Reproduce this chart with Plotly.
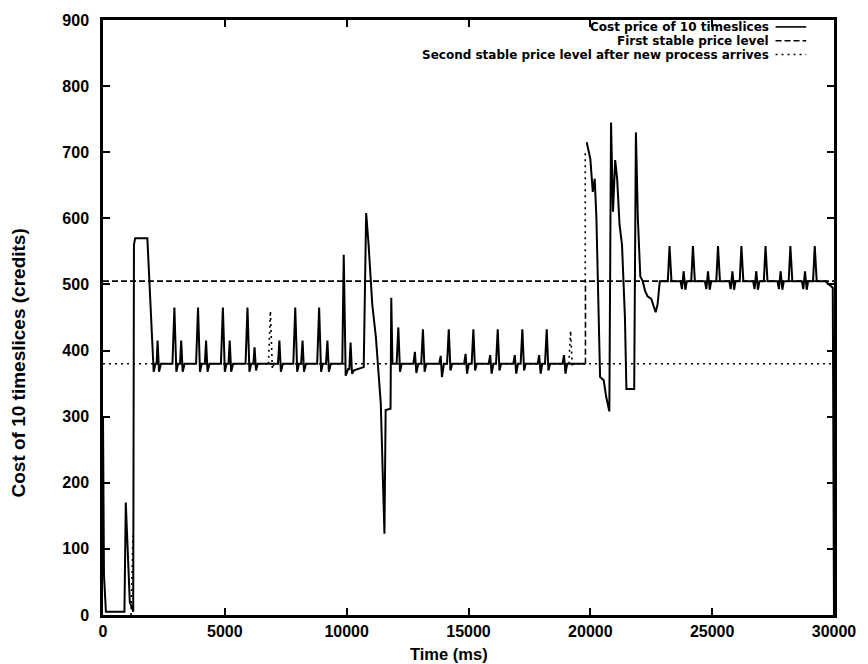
import plotly.graph_objects as go

# Cost price of 10 timeslices (credits) against time (ms), piecewise by phase
# Start-up phase
t_start = [0, 40, 120, 880, 935, 1010, 1100, 1240, 1270, 1320, 1820, 2080, 2150,
           2200, 2240, 2300, 2380]
v_start = [300, 60, 5, 5, 170, 90, 20, 5, 560, 570, 570, 368, 380,
           380, 415, 368, 380]

# First stable phase (periodic spikes)
t_first = [2850, 2930, 3010, 3080, 3160, 3210, 3270, 3350,
           3820, 3900, 3980, 4050, 4180, 4230, 4290, 4370,
           4840, 4920, 5000, 5070, 5150, 5200, 5260, 5340,
           5850, 5930, 6010, 6080, 6170, 6220, 6280, 6350,
           7180, 7240, 7300, 7380,
           7810, 7890, 7970, 8040, 8130, 8190, 8250, 8330,
           8790, 8870, 8950, 9020, 9150, 9210, 9270, 9350,
           9820, 9880, 9960, 10060, 10110, 10160, 10220, 10300, 10700]
v_first = [380, 465, 368, 380, 380, 415, 368, 380,
           380, 465, 368, 380, 380, 415, 368, 380,
           380, 465, 368, 380, 380, 415, 368, 380,
           380, 465, 368, 380, 380, 405, 370, 380,
           380, 415, 368, 380,
           380, 465, 368, 380, 380, 415, 368, 380,
           380, 465, 368, 380, 380, 415, 368, 380,
           380, 545, 362, 372, 372, 412, 365, 370, 375]

# Disturbance when the new process arrives
t_arrive = [10800, 10900, 11050, 11200, 11400, 11550, 11600, 11800, 11830, 11880, 12050]
v_arrive = [608, 560, 470, 420, 320, 123, 310, 312, 480, 380, 380]

# Second stable phase
t_second = [12120, 12190, 12260, 12740, 12800, 12860, 12940,
            13060, 13130, 13200, 13270, 13800, 13860, 13910, 13990,
            14120, 14190, 14260, 14330, 14820, 14880, 14940, 15010,
            15130, 15200, 15270, 15340, 15830, 15890, 15950, 16020,
            16130, 16200, 16270, 16340, 16840, 16900, 16960, 17030,
            17140, 17210, 17280, 17350, 17840, 17900, 17960, 18030,
            18140, 18210, 18280, 18350, 18860, 18920, 18980, 19050, 19800]
v_second = [435, 368, 380, 380, 398, 366, 380,
            380, 432, 368, 380, 380, 392, 360, 380,
            380, 432, 370, 380, 380, 395, 365, 380,
            380, 432, 370, 380, 380, 393, 365, 380,
            380, 432, 370, 380, 380, 393, 365, 380,
            380, 432, 370, 380, 380, 393, 365, 380,
            380, 432, 370, 380, 380, 393, 365, 380, 380]

# Unstable burst
t_burst = [19850, 20000, 20100, 20180, 20250, 20400, 20550, 20650, 20780, 20850,
           20930, 21020, 21100, 21200, 21300, 21420, 21480, 21800, 21870, 21950,
           22050, 22150, 22250, 22350, 22500, 22600, 22680, 22760, 22850]
v_burst = [715, 690, 640, 660, 600, 360, 355, 330, 308, 745,
           610, 688, 660, 590, 560, 450, 342, 342, 730, 600,
           512, 505, 490, 482, 478, 465, 458, 470, 505]

# Final stable phase
t_final = [23180, 23250, 23330, 23700, 23760, 23830, 23900, 23960,
           24140, 24210, 24290, 24700, 24760, 24830, 24900, 24960,
           25170, 25240, 25320, 25700, 25760, 25830, 25900, 25960,
           26130, 26200, 26280, 26680, 26740, 26810, 26880, 26940,
           27120, 27190, 27270, 27680, 27740, 27810, 27880, 27940,
           28140, 28210, 28290, 28680, 28740, 28810, 28880, 28940,
           29140, 29210, 29290, 29650, 29800, 29950, 30000]
v_final = [505, 558, 505, 505, 493, 520, 492, 505,
           505, 558, 505, 505, 493, 520, 492, 505,
           505, 558, 505, 505, 493, 520, 492, 505,
           505, 558, 505, 505, 493, 520, 492, 505,
           505, 558, 505, 505, 493, 520, 492, 505,
           505, 558, 505, 505, 493, 520, 492, 505,
           505, 558, 505, 505, 500, 495, 0]

# Reference levels (None separates segments)
first_t = [0, 30000, None, 19800, 19800]
first_v = [505, 505, None, 380, 505]
second_t = [0, 30000, None, 1150, 1230, None, 6790, 6870, 6950, 7020,
            None, 19120, 19190, 19260, 19330, None, 19790, 19790]
second_v = [380, 380, None, 0, 120, None, 380, 460, 372, 380,
            None, 380, 430, 375, 380, None, 505, 700]

x_ticks = [0, 5000, 10000, 15000, 20000, 25000, 30000]
y_ticks = [0, 100, 200, 300, 400, 500, 600, 700, 800, 900]

legend_labels = ["Cost price of 10 timeslices",
                 "First stable price level",
                 "Second stable price level after new process arrives"]

price_t = t_start + t_first + t_arrive + t_second + [None] + t_burst + t_final
price_v = v_start + v_first + v_arrive + v_second + [None] + v_burst + v_final

FONT = "Liberation Sans, Arial, sans-serif"
KEY_FONT = "DejaVu Sans, sans-serif"
DASH = "6px,3px"
DOT = "2px,4px"

fig = go.Figure()
fig.add_trace(go.Scatter(x=second_t, y=second_v, mode="lines", name=legend_labels[2],
                         line=dict(color="black", width=1.6, dash=DOT)))
fig.add_trace(go.Scatter(x=first_t, y=first_v, mode="lines", name=legend_labels[1],
                         line=dict(color="black", width=1.6, dash=DASH)))
fig.add_trace(go.Scatter(x=price_t, y=price_v, mode="lines", name=legend_labels[0],
                         line=dict(color="black", width=2)))

# Key in the top-right corner: right-aligned text followed by a line sample
styles = ["solid", DASH, DOT]
rows_y = [0.9884, 0.9651, 0.9419]
for label, dash, yy in zip(legend_labels, styles, rows_y):
    fig.add_annotation(x=0.912, y=yy, xref="paper", yref="paper", text=label,
                       showarrow=False, xanchor="right", yanchor="middle", borderpad=0,
                       font=dict(family=KEY_FONT, size=12, color="black", weight="bold"))
    fig.add_shape(type="line", xref="paper", yref="paper", x0=0.92, x1=0.962,
                  y0=yy, y1=yy, line=dict(color="black", width=1.6, dash=dash))

fig.add_annotation(x=0.474, y=-0.066, xref="paper", yref="paper", text="Time (ms)",
                   showarrow=False, xanchor="center", yanchor="middle",
                   font=dict(family=FONT, size=16.5, color="black", weight="bold"))
fig.add_annotation(x=-0.116, y=0.423, xref="paper", yref="paper",
                   text="Cost of 10 timeslices (credits)", textangle=-90,
                   showarrow=False, xanchor="center", yanchor="middle",
                   font=dict(family=FONT, size=19, color="black", weight="bold"))

axis_common = dict(showgrid=False, zeroline=False, showline=True, linecolor="black",
                   linewidth=2.5, mirror="allticks", ticks="inside", ticklen=7,
                   tickwidth=1.5, tickcolor="black",
                   tickfont=dict(family=FONT, size=16, color="black", weight="bold"))

fig.update_xaxes(range=[0, 30000], tickvals=x_ticks,
                 ticktext=[str(v) for v in x_ticks], **axis_common)
fig.update_yaxes(range=[0, 900], tickvals=y_ticks,
                 ticktext=[str(v) for v in y_ticks], ticklabelstandoff=8, **axis_common)

fig.update_layout(width=868, height=664, showlegend=False,
                  margin=dict(l=103, r=26, t=13, b=49),
                  paper_bgcolor="white", plot_bgcolor="white")

fig.write_html("out.html")
